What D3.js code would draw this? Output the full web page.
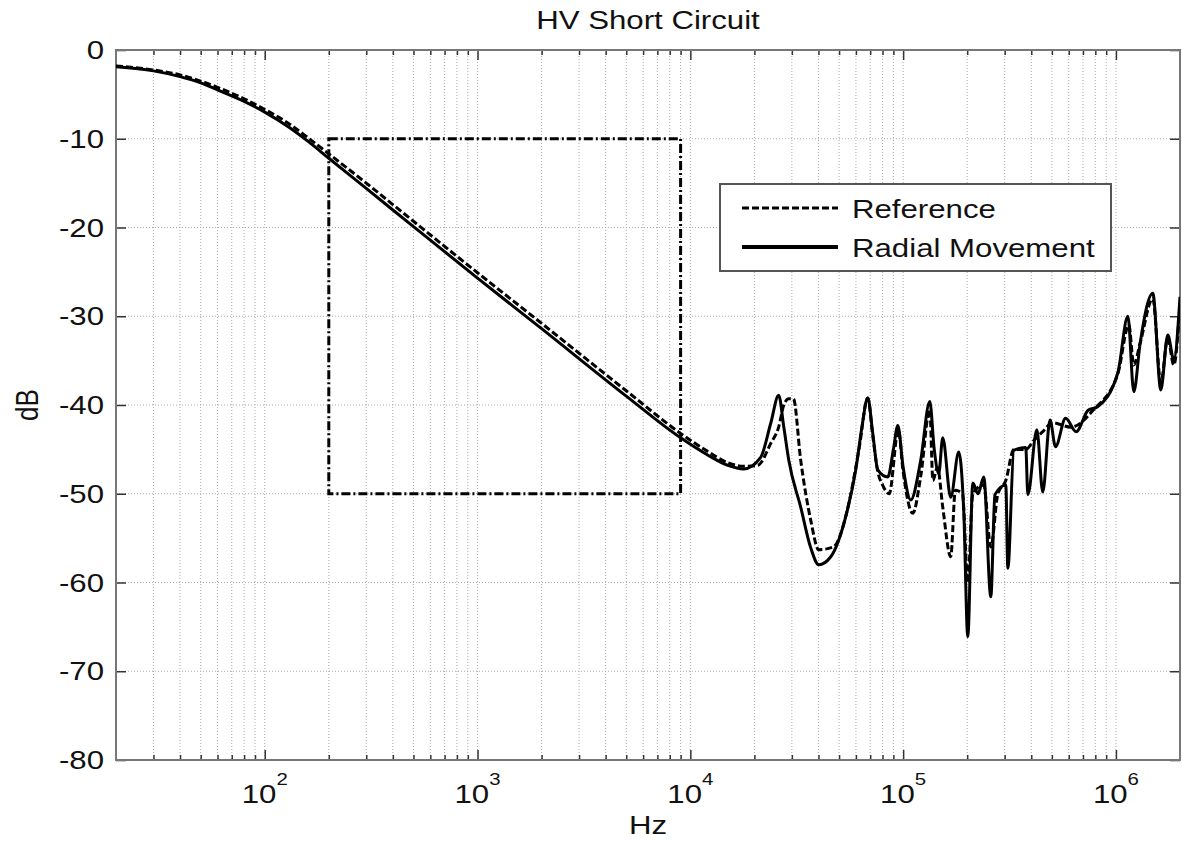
<!DOCTYPE html>
<html>
<head>
<meta charset="utf-8">
<script src="https://cdn.jsdelivr.net/npm/d3@7"></script>
<style>
body { margin: 0; background: #fff; }
text { font-family: "Liberation Sans", Arial, sans-serif; fill: #111; }
</style>
</head>
<body>
<div class="canvas"></div>
<script>
// data
const refFreq = [20, 30, 40, 50, 60, 80, 100, 130, 160, 200, 300, 500, 1000, 2000, 5000, 9000, 12000, 15000, 17800, 20700,
  23900, 26000, 27500, 29000, 30500, 33000, 36800, 40100, 47000, 54700, 62000, 68200, 72000, 76000, 80000, 86000,
  94900, 100000, 111000, 121000, 133400, 138000, 145000, 153500, 167300, 176000, 190000, 201300, 212500, 239200,
  258200, 278700, 303700, 331300, 376900, 411300, 453000, 505000, 614000, 787000, 1020000, 1150000, 1213000,
  1300000, 1490000, 1625000, 1752000, 1870000, 2000000]
const refDb = [-1.8, -2.25, -2.8, -3.5, -4.2, -5.5, -6.7, -8.3, -9.9, -11.7, -15.0, -19.3, -25.1, -30.8, -38.4, -43.2, -45.2, -46.5, -46.9, -46.8,
  -44.3, -42.5, -40.0, -39.3, -39.3, -46.2, -53.0, -56.3, -56.0, -51.8, -45.0, -39.2, -43.5, -47.5, -49.0, -50.0,
  -42.8, -47.5, -52.2, -48.0, -40.5, -48.5, -47.0, -51.5, -57.1, -49.6, -50.0, -60.0, -50.0, -49.0,
  -56.0, -50.0, -48.5, -45.0, -45.0, -44.0, -43.0, -42.0, -42.5, -40.5, -36.5, -31.0, -35.5,
  -33.0, -28.0, -37.5, -32.5, -35.5, -28.5]

const radFreq = [20, 30, 40, 50, 60, 80, 100, 130, 160, 200, 300, 500, 1000, 2000, 5000, 9000, 12000, 15000, 17800, 21400,
  23900, 26000, 27500, 29000, 33000, 36800, 40100, 45700, 53700, 59900, 64000, 68200, 72000, 76000, 84700, 90000,
  94400, 100000, 108600, 121000, 133400, 140000, 147000, 153500, 167300, 182500, 192700, 201300, 212500, 225000,
  239200, 258200, 270000, 303700, 310500, 331300, 376900, 385500, 425000, 453000, 490000, 520000, 580000, 650000,
  740000, 820000, 1020000, 1138000, 1213000, 1300000, 1490000, 1625000, 1752000, 1870000, 2000000]
const radDb = [-1.9, -2.35, -3.0, -3.7, -4.5, -5.8, -7.0, -8.7, -10.3, -12.2, -15.6, -19.9, -25.7, -31.4, -39.0, -43.7, -45.6, -46.8, -47.2, -45.9,
  -42.0, -38.9, -42.5, -46.2, -51.5, -56.1, -58.0, -57.1, -52.6, -47.3, -42.5, -39.2, -43.2, -47.3, -48.1, -45.0,
  -42.3, -47.0, -50.7, -46.2, -39.6, -45.0, -47.7, -43.7, -50.4, -45.3, -52.0, -66.1, -48.8, -50.0,
  -48.1, -61.6, -50.1, -49.0, -58.4, -45.1, -44.8, -50.1, -42.8, -49.8, -41.7, -44.7, -41.5, -43.0,
  -40.6, -40.2, -36.4, -30.0, -38.5, -33.0, -27.4, -38.3, -32.1, -34.9, -27.8]

const xMajor = [1e2, 1e3, 1e4, 1e5, 1e6]
const xExp = ['2', '3', '4', '5', '6']
const yTicks = [0, -10, -20, -30, -40, -50, -60, -70, -80]
const boxFreq = [200, 9000]
const boxDb = [-10, -50]
const seriesNames = ['Reference', 'Radial Movement']

const margin = {top: 50, right: 2, bottom: 81, left: 116}
const graphWidth = 1182 - margin.left - margin.right
const graphHeight = 841 - margin.top - margin.bottom
const sx = 1.2   // the picture's text is stretched sideways

const svg = d3.select('.canvas')
              .append('svg')
              .attr('width', 1182)
              .attr('height', 841)

const graph = svg.append('g')
                 .attr('transform', `translate(${margin.left}, ${margin.top})`)

//scales
const xScale = d3.scaleLog().domain([20, 2e6]).range([0, graphWidth])
const yScale = d3.scaleLinear().domain([-80, 0]).range([graphHeight, 0])

svg.append('defs').append('clipPath').attr('id', 'clip')
   .append('rect').attr('width', graphWidth).attr('height', graphHeight)

//grid
const xAll = xScale.ticks().filter(d => d > 20 && d < 2e6)
graph.append('g').selectAll('line')
     .data(xAll)
     .join('line')
     .attr('x1', d => xScale(d)).attr('x2', d => xScale(d))
     .attr('y1', 0).attr('y2', graphHeight)
     .attr('stroke', '#aaa').attr('stroke-width', 1).attr('stroke-dasharray', '1,2')
graph.append('g').selectAll('line')
     .data(yTicks.filter(d => d > -80 && d < 0))
     .join('line')
     .attr('x1', 0).attr('x2', graphWidth)
     .attr('y1', d => yScale(d)).attr('y2', d => yScale(d))
     .attr('stroke', '#aaa').attr('stroke-width', 1).attr('stroke-dasharray', '1,2')

//axes with inner ticks
const isMajor = d => xMajor.includes(d)
const xMinor = xAll.filter(d => !isMajor(d))
const tickAxis = (axis, values, size, tx, ty) => {
    const g = graph.append('g')
                   .attr('transform', `translate(${tx}, ${ty})`)
                   .call(axis.tickValues(values).tickSize(size).tickFormat(''))
    g.select('.domain').remove()
    g.selectAll('line').attr('stroke', '#333').attr('stroke-width', 1.5)
}
tickAxis(d3.axisBottom(xScale), xMinor, -5, 0, graphHeight)
tickAxis(d3.axisBottom(xScale), xMajor, -10, 0, graphHeight)
tickAxis(d3.axisTop(xScale), xMinor, -5, 0, 0)
tickAxis(d3.axisTop(xScale), xMajor, -10, 0, 0)
tickAxis(d3.axisLeft(yScale), yTicks, -10, 0, 0)
tickAxis(d3.axisRight(yScale), yTicks, -10, graphWidth, 0)

graph.append('rect')
     .attr('width', graphWidth).attr('height', graphHeight)
     .attr('fill', 'none').attr('stroke', '#777').attr('stroke-width', 2)

//tick labels
graph.selectAll('.ylab')
     .data(yTicks)
     .join('text')
     .attr('class', 'ylab')
     .attr('transform', d => `translate(-12, ${yScale(d) + 9}) scale(${sx}, 1)`)
     .attr('text-anchor', 'end')
     .attr('font-size', 26)
     .text(d => d)

const xlab = graph.selectAll('.xlab')
     .data(xMajor)
     .join('text')
     .attr('class', 'xlab')
     .attr('transform', d => `translate(${xScale(d)}, ${graphHeight + 43}) scale(${sx}, 1)`)
     .attr('text-anchor', 'middle')
     .attr('font-size', 26)
xlab.append('tspan').text('10')
xlab.append('tspan').attr('font-size', 17).attr('dy', -18).text((d, i) => xExp[i])

//titles
svg.append('text')
   .attr('transform', `translate(${margin.left + graphWidth / 2}, 29) scale(${sx}, 1)`)
   .attr('text-anchor', 'middle').attr('font-size', 26)
   .text('HV Short Circuit')
svg.append('text')
   .attr('transform', `translate(${margin.left + graphWidth / 2}, 834) scale(${sx}, 1)`)
   .attr('text-anchor', 'middle').attr('font-size', 26)
   .text('Hz')
svg.append('text')
   .attr('transform', `translate(38, ${margin.top + graphHeight / 2}) scale(${sx}, 1) rotate(-90)`)
   .attr('text-anchor', 'middle').attr('font-size', 26)
   .text('dB')

//zoom box (dash-dot)
graph.append('rect')
     .attr('x', xScale(boxFreq[0]))
     .attr('y', yScale(boxDb[0]))
     .attr('width', xScale(boxFreq[1]) - xScale(boxFreq[0]))
     .attr('height', yScale(boxDb[1]) - yScale(boxDb[0]))
     .attr('fill', 'none').attr('stroke', '#000').attr('stroke-width', 3)
     .attr('stroke-dasharray', '9,3,2,3')

//curves
const line = d3.line()
               .x(d => xScale(d[0]))
               .y(d => yScale(d[1]))
               .curve(d3.curveMonotoneX)

const curves = graph.append('g').attr('clip-path', 'url(#clip)')
curves.append('path')
      .datum(radFreq.map((f, i) => [f, radDb[i]]))
      .attr('fill', 'none').attr('stroke', '#000').attr('stroke-width', 3)
      .attr('stroke-linejoin', 'round')
      .attr('d', line)
curves.append('path')
      .datum(refFreq.map((f, i) => [f, refDb[i]]))
      .attr('fill', 'none').attr('stroke', '#000').attr('stroke-width', 3)
      .attr('stroke-dasharray', '7,3')
      .attr('d', line)

//legend
const legend = svg.append('g').attr('transform', 'translate(720, 184)')
legend.append('rect')
      .attr('width', 391).attr('height', 87)
      .attr('fill', '#fff').attr('stroke', '#555').attr('stroke-width', 2)
const rows = legend.selectAll('.row')
      .data(seriesNames)
      .join('g')
      .attr('class', 'row')
      .attr('transform', (d, i) => `translate(0, ${24 + i * 39})`)
rows.append('line')
    .attr('x1', 22).attr('x2', 118)
    .attr('stroke', '#000')
    .attr('stroke-width', (d, i) => i ? 4 : 3)
    .attr('stroke-dasharray', (d, i) => i ? null : '7,3')
rows.append('text')
    .attr('transform', `translate(132, 10) scale(${sx}, 1)`)
    .attr('font-size', 26)
    .text(d => d)
</script>
</body>
</html>
